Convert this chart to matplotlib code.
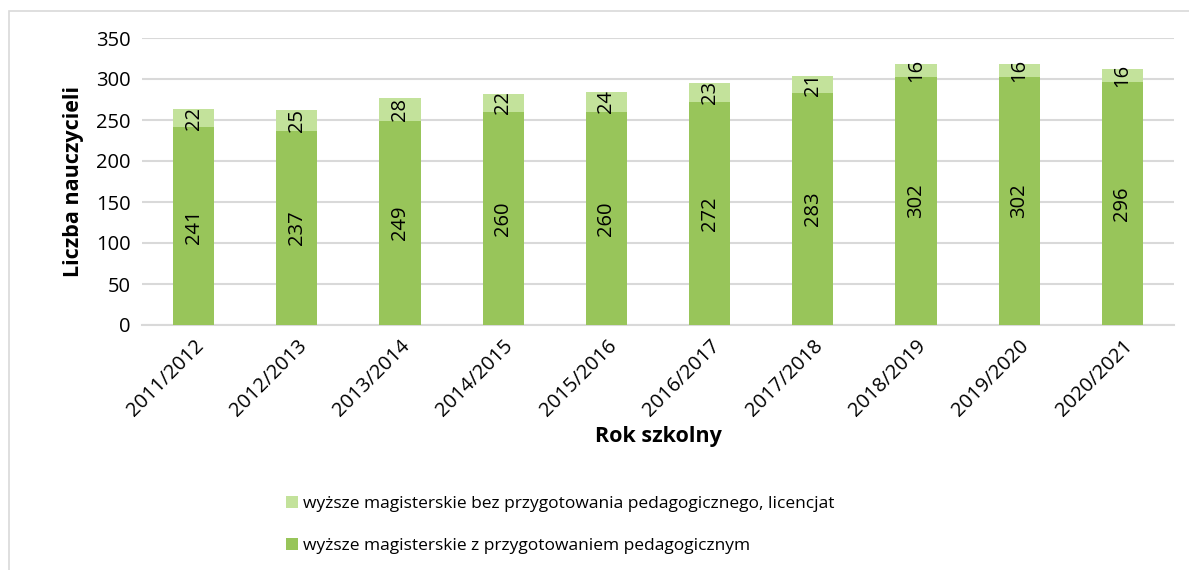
import numpy as np
import matplotlib.pyplot as plt

# data
years = ["2011/2012", "2012/2013", "2013/2014", "2014/2015", "2015/2016",
         "2016/2017", "2017/2018", "2018/2019", "2019/2020", "2020/2021"]
z_przyg = [241, 237, 249, 260, 260, 272, 283, 302, 302, 296]
bez_przyg = [22, 25, 28, 22, 24, 23, 21, 16, 16, 16]

lab_z = "wyższe magisterskie z przygotowaniem pedagogicznym"
lab_bez = "wyższe magisterskie bez przygotowania pedagogicznego, licencjat"

C_DARK = "#98C55A"
C_LIGHT = "#C3E29B"

plt.rcParams['font.family'] = ['Open Sans', 'DejaVu Sans']

fig = plt.figure(figsize=(11.89, 5.70), dpi=100)
ax = fig.add_axes([142/1189, 1 - 325/570, (1174-142)/1189, (325-38)/570])

x = np.arange(len(years))
w = 0.4
ax.bar(x, z_przyg, w, color=C_DARK, label=lab_z, zorder=3)
ax.bar(x, bez_przyg, w, bottom=z_przyg, color=C_LIGHT, label=lab_bez, zorder=3)

for i in range(len(years)):
    ax.text(x[i], z_przyg[i] / 2, str(z_przyg[i]), rotation=90,
            ha="center", va="center", fontsize=14.5, zorder=4)
    ax.text(x[i], z_przyg[i] + bez_przyg[i] / 2, str(bez_przyg[i]), rotation=90,
            ha="center", va="center", fontsize=14.5, zorder=4)

ax.set_ylim(0, 350)
ax.set_yticks(range(0, 351, 50))
ax.set_xlim(-0.5, len(years) - 0.5)
ax.set_xticks(x)
ax.set_xticklabels(years, rotation=45, ha="right", rotation_mode="anchor", fontsize=14.5)
ax.tick_params(axis="y", labelsize=14.5, length=0, pad=8)
ax.tick_params(axis="x", length=0, pad=8)
ax.yaxis.grid(True, color="#D9D9D9", linewidth=1.5, zorder=0)
for s in ["top", "right", "left"]:
    ax.spines[s].set_visible(False)
ax.spines["bottom"].set_color("#D9D9D9")
ax.spines["bottom"].set_linewidth(1.5)

ax.set_ylabel("Liczba nauczycieli", fontsize=15.5, fontweight="bold", labelpad=9)
ax.set_xlabel("Rok szkolny", fontsize=15.5, fontweight="bold", labelpad=4)

h, l = ax.get_legend_handles_labels()
fig.legend(h[::-1], l[::-1], loc="upper left", bbox_to_anchor=(270/1189, 1 - 480/570),
           frameon=False, fontsize=12.5, handlelength=0.7, handleheight=0.7,
           handletextpad=0.3, labelspacing=1.5)

# outer frame
fig.patches.append(plt.Rectangle((9/1189, -0.1), 1.2, 1 - 11/570 + 0.1,
                                 transform=fig.transFigure, fill=False,
                                 edgecolor="#D9D9D9", linewidth=1.2))

fig.savefig("out.png", dpi=100)
